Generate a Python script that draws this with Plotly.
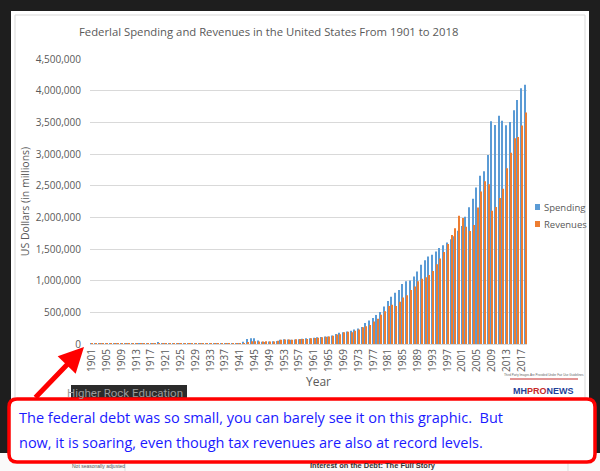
import plotly.graph_objects as go

years = list(range(1901, 2019))

spending = [525, 485, 517, 584, 567, 570, 579, 659, 694, 694,
            691, 690, 715, 726, 746, 713, 1954, 12677, 18493, 6358,
            5062, 3289, 3140, 2908, 2924, 2930, 2857, 2961, 3127, 3320,
            3577, 4659, 4598, 6541, 6412, 8228, 7580, 6840, 9141, 9468,
            13653, 35137, 78555, 91304, 92712, 55232, 34496, 29764, 38835, 42562,
            45514, 67686, 76101, 70855, 68444, 70640, 76578, 82405, 92098, 92191,
            97723, 106821, 111316, 118528, 118228, 134532, 157464, 178134, 183640, 195649,
            210172, 230681, 245707, 269359, 332332, 371792, 409218, 458746, 504028, 590941,
            678241, 745743, 808364, 851805, 946344, 990382, 1004017, 1064416, 1143743, 1252993,
            1324226, 1381529, 1409386, 1461752, 1515742, 1560484, 1601116, 1652458, 1701842, 1788950,
            1862846, 2010894, 2159899, 2292841, 2471957, 2655050, 2728686, 2982544, 3517677, 3457079,
            3603065, 3526563, 3454881, 3506284, 3691850, 3852616, 4040000, 4094000]

revenues = [588, 562, 562, 541, 544, 595, 666, 602, 604, 676,
            702, 693, 714, 725, 683, 761, 1101, 3645, 5130, 6649,
            5571, 4026, 3853, 3871, 3641, 3795, 4013, 3900, 3862, 4058,
            3116, 1924, 1997, 2955, 3609, 3923, 5387, 6751, 6295, 6548,
            8712, 14634, 24001, 43747, 45159, 39296, 38514, 41560, 39415, 39443,
            51616, 66167, 69608, 69701, 65451, 74587, 79990, 79636, 79249, 92492,
            94388, 99676, 106560, 112613, 116817, 130835, 148822, 152973, 186882, 192807,
            187139, 207309, 230799, 263224, 279090, 298060, 355559, 399561, 463302, 517112,
            599272, 617766, 600562, 666438, 734037, 769155, 854287, 909238, 991104, 1031958,
            1054988, 1091208, 1154335, 1258566, 1351790, 1453053, 1579232, 1721728, 1827452, 2025191,
            1991082, 1853136, 1782314, 1880114, 2153611, 2406869, 2567985, 2523991, 2104989, 2162706,
            2303466, 2449990, 2775106, 3021491, 3249890, 3267965, 3450000, 3654000]

tick_years = list(range(1901, 2018, 4))
y_ticks = [0, 500000, 1000000, 1500000, 2000000, 2500000, 3000000, 3500000, 4000000, 4500000]

series_names = ["Spending", "Revenues"]
series_colors = ["#5B9BD5", "#ED7D31"]

title_text = "Federlal Spending and Revenues in the United States From 1901 to 2018"
callout_line1 = "The federal debt was so small, you can barely see it on this graphic.  But"
callout_line2 = "now, it is soaring, even though tax revenues are also at record levels."

W, H = 600, 471
L, R, T, B = 90, 527, 59, 344


def px(x):
    return (x - L) / (R - L)


def py(y):
    return (B - y) / (B - T)


fig = go.Figure()
fig.add_trace(go.Bar(x=years, y=spending, name=series_names[0],
                     marker_color=series_colors[0], marker_line_width=0))
fig.add_trace(go.Bar(x=years, y=revenues, name=series_names[1],
                     marker_color=series_colors[1], marker_line_width=0))

shapes = []
# white chart panel
shapes.append(dict(type="rect", xref="paper", yref="paper", layer="below",
                   x0=px(11), x1=px(589), y0=py(453), y1=py(11),
                   fillcolor="white", line=dict(width=0)))
shapes.append(dict(type="rect", xref="paper", yref="paper", layer="below",
                   x0=px(15), x1=px(585), y0=py(451), y1=py(15),
                   fillcolor="white", line=dict(color="#d9d9d9", width=1)))
# bottom webpage strip
shapes.append(dict(type="rect", xref="paper", yref="paper", layer="above",
                   x0=px(0), x1=px(600), y0=py(472), y1=py(453),
                   fillcolor="#fafafa", line=dict(width=0)))
shapes.append(dict(type="line", xref="paper", yref="paper", layer="above",
                   x0=px(125), x1=px(125), y0=py(472), y1=py(455),
                   line=dict(color="#dddddd", width=1)))
shapes.append(dict(type="line", xref="paper", yref="paper", layer="above",
                   x0=px(568), x1=px(568), y0=py(472), y1=py(455),
                   line=dict(color="#dddddd", width=1)))
# Higher Rock Education label box
shapes.append(dict(type="rect", xref="paper", yref="paper", layer="above",
                   x0=px(71), x1=px(187), y0=py(403), y1=py(385),
                   fillcolor="#2b2b2b", line=dict(width=0)))
# logo box
shapes.append(dict(type="rect", xref="paper", yref="paper", layer="above",
                   x0=px(506), x1=px(582), y0=py(406), y1=py(373),
                   fillcolor="white", line=dict(width=0)))
shapes.append(dict(type="line", xref="paper", yref="paper", layer="above",
                   x0=px(510), x1=px(578), y0=py(379), y1=py(379),
                   line=dict(color="#c62828", width=1)))
shapes.append(dict(type="line", xref="paper", yref="paper", layer="above",
                   x0=px(512), x1=px(576), y0=py(400), y1=py(400),
                   line=dict(color="#1f3f99", width=1)))
# legend squares
for i, c in enumerate(series_colors):
    yc = 207 + 17 * i
    shapes.append(dict(type="rect", xref="paper", yref="paper", layer="above",
                       x0=px(535), x1=px(540), y0=py(yc + 3), y1=py(yc - 3),
                       fillcolor=c, line=dict(width=0)))

# callout rounded rect
x0c, x1c, y0c, y1c, r = 9, 595, 399, 462, 8
pts = [
    f"M {px(x0c + r)},{py(y0c)}",
    f"L {px(x1c - r)},{py(y0c)}",
    f"Q {px(x1c)},{py(y0c)} {px(x1c)},{py(y0c + r)}",
    f"L {px(x1c)},{py(y1c - r)}",
    f"Q {px(x1c)},{py(y1c)} {px(x1c - r)},{py(y1c)}",
    f"L {px(x0c + r)},{py(y1c)}",
    f"Q {px(x0c)},{py(y1c)} {px(x0c)},{py(y1c - r)}",
    f"L {px(x0c)},{py(y0c + r)}",
    f"Q {px(x0c)},{py(y0c)} {px(x0c + r)},{py(y0c)}",
    "Z",
]
shapes.append(dict(type="path", xref="paper", yref="paper", layer="above",
                   path=" ".join(pts), fillcolor="white",
                   line=dict(color="#ff0000", width=3.5)))

annotations = []
annotations.append(dict(text=title_text, xref="paper", yref="paper",
                        x=px(268), y=py(32), showarrow=False,
                        xanchor="center", yanchor="middle",
                        font=dict(family="Open Sans", size=11.3, color="#595959")))
annotations.append(dict(text="Year", xref="paper", yref="paper",
                        x=px(318), y=py(381), showarrow=False,
                        xanchor="center", yanchor="middle",
                        font=dict(family="Open Sans", size=12, color="#595959")))
for i, name in enumerate(series_names):
    annotations.append(dict(text=name, xref="paper", yref="paper",
                            x=px(542), y=py(207 + 17 * i), showarrow=False,
                            xanchor="left", yanchor="middle",
                            font=dict(family="Open Sans", size=9.5, color="#595959")))
annotations.append(dict(text="Higher Rock Education", xref="paper", yref="paper",
                        x=px(185), y=py(393), showarrow=False,
                        xanchor="right", yanchor="middle",
                        font=dict(family="Roboto", size=11.5, color="#9a9a9a")))
# arrow
annotations.append(dict(text="", xref="paper", yref="paper",
                        x=px(84), y=py(347), ax=-50, ay=52,
                        showarrow=True, arrowhead=2, arrowsize=1.0, arrowwidth=5,
                        arrowcolor="#ff0000", standoff=0))
annotations.append(dict(text=callout_line1, xref="paper", yref="paper",
                        x=px(17), y=py(417), showarrow=False,
                        xanchor="left", yanchor="middle",
                        font=dict(family="Open Sans", size=14.5, color="#1a1aff")))
annotations.append(dict(text=callout_line2, xref="paper", yref="paper",
                        x=px(17), y=py(442), showarrow=False,
                        xanchor="left", yanchor="middle",
                        font=dict(family="Open Sans", size=14.5, color="#1a1aff")))
# logo text
annotations.append(dict(text="<b>MH<span style='color:#c62828'>PRO</span>NEWS</b>",
                        xref="paper", yref="paper", x=px(543), y=py(391),
                        showarrow=False, xanchor="center", yanchor="middle",
                        font=dict(family="Liberation Sans", size=9, color="#1f3f99")))
annotations.append(dict(text="Third Party Images Are Provided Under Fair Use Guidelines",
                        xref="paper", yref="paper", x=px(544), y=py(375),
                        showarrow=False, xanchor="center", yanchor="middle",
                        font=dict(family="Liberation Sans", size=3, color="#666666")))
# bottom strip texts
annotations.append(dict(text="Not seasonally adjusted", xref="paper", yref="paper",
                        x=px(70), y=py(465.5), showarrow=False, xanchor="left",
                        yanchor="middle",
                        font=dict(family="Liberation Sans", size=5, color="#555555")))
annotations.append(dict(text="<b>Interest on the Debt: The Full Story</b>",
                        xref="paper", yref="paper", x=px(308), y=py(465.5),
                        showarrow=False, xanchor="left", yanchor="middle",
                        font=dict(family="Liberation Sans", size=7.5, color="#333333")))

fig.update_layout(
    width=W, height=H,
    margin=dict(l=L, r=W - R, t=T, b=H - B, pad=0),
    paper_bgcolor="#1e1e1e",
    plot_bgcolor="white",
    barmode="group",
    bargap=0.45,
    bargroupgap=0.0,
    showlegend=False,
    shapes=shapes,
    annotations=annotations,
    xaxis=dict(range=[1900.5, 2018.5], tickmode="array", tickvals=tick_years,
               ticktext=[str(y) for y in tick_years], tickangle=-90,
               tickfont=dict(family="Open Sans", size=10, color="#595959"),
               showgrid=False, showline=True, linecolor="#d9d9d9", linewidth=1,
               ticks="", zeroline=False),
    yaxis=dict(range=[0, 4500000], tickmode="array", tickvals=y_ticks,
               tickformat=",", tickfont=dict(family="Open Sans", size=10, color="#595959"),
               showgrid=True, gridcolor="#d9d9d9", gridwidth=1, zeroline=False,
               showline=False, ticks="", ticklabelstandoff=8,
               title=dict(text="US Dollars (in millions)", standoff=4,
                          font=dict(family="Open Sans", size=10.5, color="#595959"))),
)

fig.write_html("out.html",
               config={"displayModeBar": False},
               post_script="document.body.style.margin='0';document.body.style.padding='0';"
                           "document.body.style.background='#1e1e1e';")
